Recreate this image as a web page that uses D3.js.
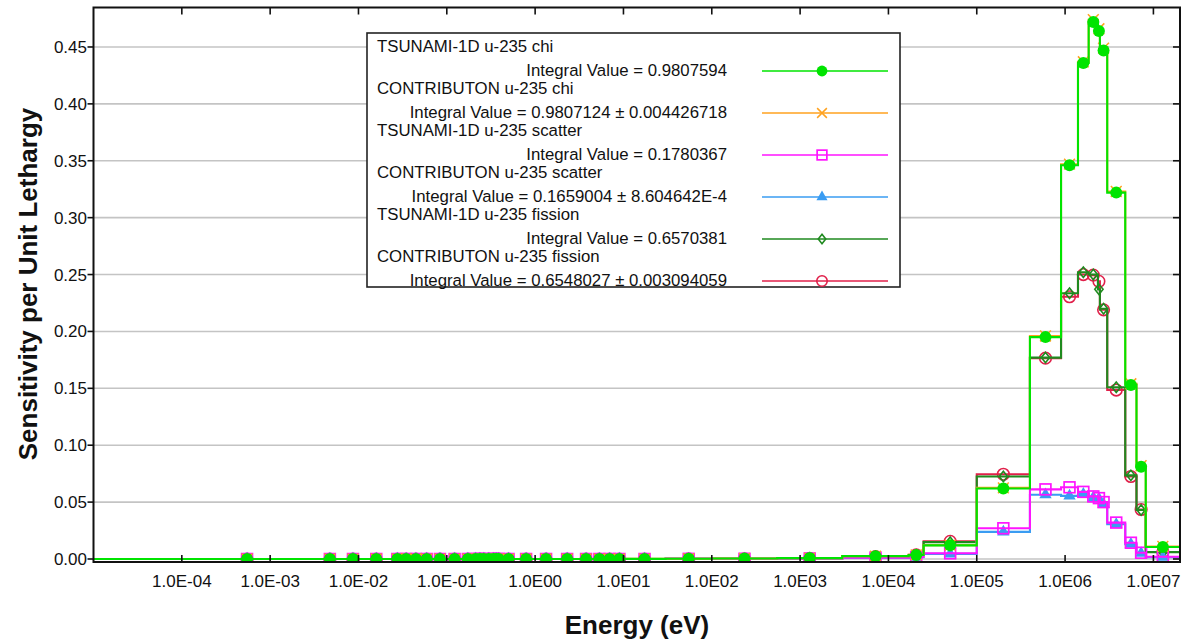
<!DOCTYPE html>
<html>
<head>
<meta charset="utf-8">
<script src="https://cdn.jsdelivr.net/npm/d3@7"></script>
<style>
  html, body { margin: 0; padding: 0; background: #ffffff; }
  svg { display: block; font-family: "Liberation Sans", Arial, sans-serif; }
</style>
</head>
<body>
<svg id="chart" width="1190" height="642"></svg>
<script>
// 44-group energy boundaries (eV), high to low
const energyBounds = [2.0e7, 8.187e6, 6.434e6, 4.8e6, 3.0e6, 2.479e6, 2.354e6, 1.85e6, 1.4e6, 9.0e5,
  4.0e5, 1.0e5, 2.5e4, 1.7e4, 3.0e3, 5.5e2, 1.0e2, 3.0e1, 1.0e1, 8.1, 6.0, 4.75, 3.0, 1.77, 1.0,
  0.625, 0.4, 0.375, 0.35, 0.325, 0.275, 0.25, 0.225, 0.2, 0.15, 0.1, 0.07, 0.05, 0.04, 0.03,
  0.0253, 0.01, 0.0075, 0.003, 1.0e-5];

// Sensitivity per unit lethargy, one value per group (group 1 = highest energy)
const tsunamiChi = [0.0105, 0.081, 0.153, 0.322, 0.447, 0.464, 0.472, 0.436, 0.346, 0.195,
  0.062, 0.012, 0.0035, 0.0025, 0.0008, 0.0004, 0.0002, 0.0001, 0, 0,
  0, 0, 0, 0, 0, 0, 0, 0, 0, 0, 0, 0, 0, 0, 0, 0, 0, 0, 0, 0, 0, 0, 0, 0];
const contribChi = [0.011, 0.082, 0.154, 0.323, 0.449, 0.466, 0.474, 0.437, 0.347, 0.196,
  0.0625, 0.0122, 0.0036, 0.0025, 0.0008, 0.0004, 0.0002, 0.0001, 0, 0,
  0, 0, 0, 0, 0, 0, 0, 0, 0, 0, 0, 0, 0, 0, 0, 0, 0, 0, 0, 0, 0, 0, 0, 0];
const tsunamiScatter = [0.002, 0.0055, 0.0143, 0.032, 0.050, 0.0535, 0.055, 0.059, 0.063, 0.0612,
  0.027, 0.005, 0.0017, 0.0012, 0.0005, 0.0002, 0.0001, 0, 0, 0,
  0, 0, 0, 0, 0, 0, 0, 0, 0, 0, 0, 0, 0, 0, 0, 0, 0, 0, 0, 0, 0, 0, 0, 0];
const contribScatter = [0.0015, 0.005, 0.013, 0.0305, 0.048, 0.053, 0.054, 0.057, 0.0555, 0.0565,
  0.0238, 0.0045, 0.0015, 0.001, 0.0004, 0.0002, 0.0001, 0, 0, 0,
  0, 0, 0, 0, 0, 0, 0, 0, 0, 0, 0, 0, 0, 0, 0, 0, 0, 0, 0, 0, 0, 0, 0, 0];
const tsunamiFission = [0.006, 0.043, 0.0735, 0.151, 0.220, 0.237, 0.250, 0.252, 0.2335, 0.177,
  0.0725, 0.0148, 0.0035, 0.0022, 0.0006, 0.0002, 0.0001, 0, 0, 0,
  0, 0, 0, 0, 0, 0, 0, 0, 0, 0, 0, 0, 0, 0, 0, 0, 0, 0, 0, 0, 0, 0, 0, 0];
const contribFission = [0.0062, 0.0435, 0.0725, 0.1485, 0.219, 0.244, 0.2495, 0.250, 0.2305, 0.1765,
  0.0745, 0.0155, 0.0036, 0.0022, 0.0006, 0.0002, 0.0001, 0, 0, 0,
  0, 0, 0, 0, 0, 0, 0, 0, 0, 0, 0, 0, 0, 0, 0, 0, 0, 0, 0, 0, 0, 0, 0, 0];

const seriesNames = ["TSUNAMI-1D u-235 chi", "CONTRIBUTON u-235 chi", "TSUNAMI-1D u-235 scatter",
  "CONTRIBUTON u-235 scatter", "TSUNAMI-1D u-235 fission", "CONTRIBUTON u-235 fission"];
const integralLabels = ["Integral Value = 0.9807594", "Integral Value = 0.9807124 \u00b1 0.004426718",
  "Integral Value = 0.1780367", "Integral Value = 0.1659004 \u00b1 8.604642E-4",
  "Integral Value = 0.6570381", "Integral Value = 0.6548027 \u00b1 0.003094059"];

const xTickValues = [1e-4, 1e-3, 1e-2, 1e-1, 1e0, 1e1, 1e2, 1e3, 1e4, 1e5, 1e6, 1e7];
const xTickLabels = ["1.0E-04", "1.0E-03", "1.0E-02", "1.0E-01", "1.0E00", "1.0E01", "1.0E02",
  "1.0E03", "1.0E04", "1.0E05", "1.0E06", "1.0E07"];
const yTickValues = [0, 0.05, 0.10, 0.15, 0.20, 0.25, 0.30, 0.35, 0.40, 0.45];
const yTickLabels = ["0.00", "0.05", "0.10", "0.15", "0.20", "0.25", "0.30", "0.35", "0.40", "0.45"];

const series = [
  { name: seriesNames[0], label: integralLabels[0], values: tsunamiChi, color: "#00e400", marker: "dot" },
  { name: seriesNames[1], label: integralLabels[1], values: contribChi, color: "#ffa21f", marker: "x" },
  { name: seriesNames[2], label: integralLabels[2], values: tsunamiScatter, color: "#ff14ff", marker: "square" },
  { name: seriesNames[3], label: integralLabels[3], values: contribScatter, color: "#3a9cf2", marker: "triangle" },
  { name: seriesNames[4], label: integralLabels[4], values: tsunamiFission, color: "#1f8a1f", marker: "diamond" },
  { name: seriesNames[5], label: integralLabels[5], values: contribFission, color: "#e0204a", marker: "ring" }
];

const plot = { left: 93.5, right: 1180, top: 7.5, bottom: 562 };

const x = d3.scaleLog().domain([1e-5, 2e7]).range([plot.left, plot.right]);
const y = d3.scaleLinear().domain([-0.00264, 0.4847]).range([plot.bottom, plot.top]);

const svg = d3.select("#chart");

svg.append("defs").append("clipPath").attr("id", "plotClip")
  .append("rect")
  .attr("x", plot.left).attr("y", plot.top)
  .attr("width", plot.right - plot.left).attr("height", plot.bottom - plot.top);

// horizontal grid
svg.append("g")
  .selectAll("line")
  .data(yTickValues)
  .join("line")
  .attr("x1", plot.left).attr("x2", plot.right)
  .attr("y1", d => y(d)).attr("y2", d => y(d))
  .attr("stroke", "#c4c4c4")
  .attr("stroke-width", 1.6);

// marker drawing
function drawMarker(sel, kind, color, scale) {
  const s = scale || 1;
  if (kind === "dot") {
    sel.append("circle").attr("r", 6 * s).attr("fill", color);
  } else if (kind === "x") {
    const h = 5.4 * s;
    sel.append("path").attr("d", `M${-h},${-h}L${h},${h}M${-h},${h}L${h},${-h}`)
      .attr("stroke", color).attr("stroke-width", 1.5).attr("fill", "none");
  } else if (kind === "square") {
    const h = 5.4 * s;
    sel.append("rect").attr("x", -h).attr("y", -h).attr("width", 2 * h).attr("height", 2 * h)
      .attr("fill", "none").attr("stroke", color).attr("stroke-width", 1.7);
  } else if (kind === "triangle") {
    sel.append("path").attr("d", d3.symbol(d3.symbolTriangle, 66 * s * s)())
      .attr("fill", color);
  } else if (kind === "diamond") {
    const h = 5.2 * s;
    sel.append("path").attr("d", `M0,${-h}L${h * 0.8},0L0,${h}L${-h * 0.8},0Z`)
      .attr("fill", "none").attr("stroke", color).attr("stroke-width", 1.6);
  } else if (kind === "ring") {
    sel.append("circle").attr("r", 5.8 * s).attr("fill", "none")
      .attr("stroke", color).attr("stroke-width", 1.6);
  }
}

// step lines and markers (last series underneath, first series on top)
const dataLayer = svg.append("g").attr("clip-path", "url(#plotClip)");
const nGroups = energyBounds.length - 1;

series.slice().reverse().forEach(s => {
  // ascending energy points for a step-after curve
  const pts = [];
  for (let g = nGroups - 1; g >= 0; g--) {
    const lo = g === nGroups - 1 ? x.domain()[0] : energyBounds[g + 1];
    pts.push([lo, s.values[g]]);
  }
  pts.push([energyBounds[0], s.values[0]]);

  const line = d3.line()
    .x(d => x(d[0])).y(d => y(d[1]))
    .curve(d3.curveStepAfter);

  dataLayer.append("path")
    .attr("d", line(pts))
    .attr("fill", "none")
    .attr("stroke", s.color)
    .attr("stroke-width", 2.1);

  // markers at each group's log-centre (lowest group measured from 1e-4 eV)
  const mk = dataLayer.append("g");
  for (let g = 0; g < nGroups; g++) {
    const hi = energyBounds[g];
    const lo = Math.max(energyBounds[g + 1], 1e-4);
    const ec = Math.sqrt(hi * lo);
    const m = mk.append("g").attr("transform", `translate(${x(ec)},${y(s.values[g])})`);
    drawMarker(m, s.marker, s.color, 1);
  }
});

// frame
svg.append("rect")
  .attr("x", plot.left).attr("y", plot.top)
  .attr("width", plot.right - plot.left).attr("height", plot.bottom - plot.top)
  .attr("fill", "none").attr("stroke", "#111").attr("stroke-width", 2);

// x ticks (inward, bottom and top)
const xt = svg.append("g");
xTickValues.forEach((v, i) => {
  const px = x(v);
  xt.append("line").attr("x1", px).attr("x2", px).attr("y1", plot.bottom).attr("y2", plot.bottom - 7)
    .attr("stroke", "#111").attr("stroke-width", 1.6);
  xt.append("line").attr("x1", px).attr("x2", px).attr("y1", plot.top).attr("y2", plot.top + 7)
    .attr("stroke", "#111").attr("stroke-width", 1.6);
  xt.append("text").attr("x", px).attr("y", 587)
    .attr("text-anchor", "middle").attr("font-size", 17).attr("fill", "#111")
    .text(xTickLabels[i]);
});

// y ticks (outward on the left, inward on the right)
const yt = svg.append("g");
yTickValues.forEach((v, i) => {
  const py = y(v);
  yt.append("line").attr("x1", plot.left - 6).attr("x2", plot.left).attr("y1", py).attr("y2", py)
    .attr("stroke", "#111").attr("stroke-width", 1.6);
  yt.append("line").attr("x1", plot.right - 7).attr("x2", plot.right).attr("y1", py).attr("y2", py)
    .attr("stroke", "#111").attr("stroke-width", 1.6);
  yt.append("text").attr("x", 87).attr("y", py + 6)
    .attr("text-anchor", "end").attr("font-size", 17).attr("fill", "#111")
    .text(yTickLabels[i]);
});

// axis titles
svg.append("text")
  .attr("x", 637).attr("y", 634)
  .attr("text-anchor", "middle").attr("font-size", 26).attr("font-weight", "bold").attr("fill", "#111")
  .text("Energy (eV)");
svg.append("text")
  .attr("transform", "translate(37,284) rotate(-90)")
  .attr("text-anchor", "middle").attr("font-size", 26).attr("font-weight", "bold").attr("fill", "#111")
  .text("Sensitivity per Unit Lethargy");

// legend
const legend = svg.append("g");
legend.append("rect")
  .attr("x", 367).attr("y", 33).attr("width", 533).attr("height", 254)
  .attr("fill", "#fff").attr("stroke", "#222").attr("stroke-width", 1.6);

series.forEach((s, i) => {
  const top = 33 + i * 42;
  legend.append("text").attr("x", 377).attr("y", top + 19)
    .attr("font-size", 16.8).attr("fill", "#111").text(s.name);
  legend.append("text").attr("x", 727).attr("y", top + 43)
    .attr("text-anchor", "end").attr("font-size", 16.8).attr("fill", "#111").text(s.label);
  const ly = top + 38;
  legend.append("line").attr("x1", 762).attr("x2", 888).attr("y1", ly).attr("y2", ly)
    .attr("stroke", s.color).attr("stroke-width", 1.5);
  const m = legend.append("g").attr("transform", `translate(822,${ly})`);
  drawMarker(m, s.marker, s.color, 0.9);
});
</script>
</body>
</html>
